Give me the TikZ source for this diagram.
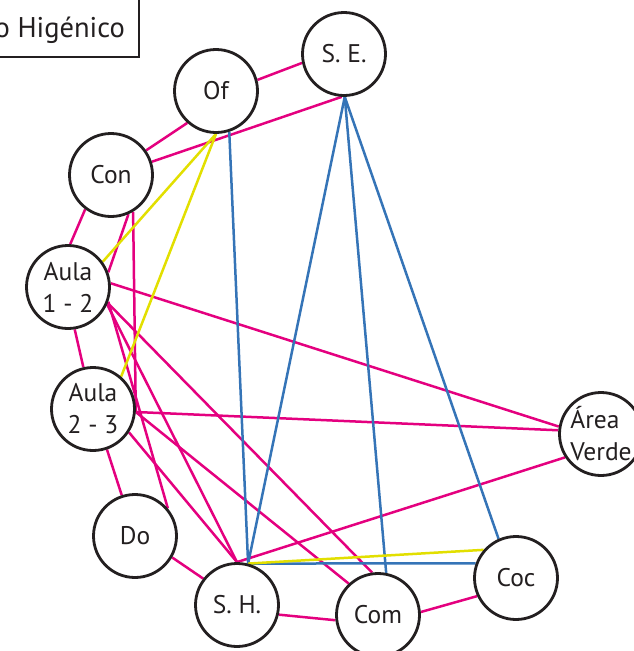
\documentclass[tikz,border=0pt]{standalone}
\usepackage{fontspec}
\setmainfont{PT Sans}
\usetikzlibrary{backgrounds}
\definecolor{mag}{HTML}{E4007F}
\definecolor{blu}{HTML}{3574B7}
\definecolor{yel}{HTML}{E2DF00}
\definecolor{ink}{HTML}{231F20}
\begin{document}
\begin{tikzpicture}[x=1pt,y=-1pt,
  room/.style={circle,draw=ink,line width=2.8pt,fill=white,minimum size=83pt,inner sep=0pt,
    font=\fontsize{25.5}{32}\selectfont,align=center,text=ink},
  rel/.style={mag,line width=2.5pt},
  ind/.style={blu,line width=2.5pt},
  aux/.style={yel,line width=2.5pt},
  boxline/.style={draw=ink,line width=2pt}]
\useasboundingbox (0,0) rectangle (633,651);
% title box
\draw[boxline] (-40,-40) rectangle (139,57);
\node[anchor=base east,font=\fontsize{28.5}{32}\selectfont,text=ink,inner sep=0pt] (title) at (125,37) {o Higénico};
% rooms
\node[room] (of) at (216,91) {Of};
\node[room] (se) at (344,54) {S. E.};
\node[room] (con) at (111,175) {Con};
\node[room] (a12) at (68,287) {Aula\\1 - 2};
\node[room] (a23) at (93,409) {Aula\\2 - 3};
\node[room] (do) at (135,536) {Do};
\node[room] (sh) at (237,605) {S. H.};
\node[room] (com) at (378,615) {Com};
\node[room] (coc) at (516,578) {Coc};
\node[room,align=left] (av) at (601,434) {Área\\Verde};
\begin{scope}[on background layer]
% magenta relations
\draw[rel] (of.15) -- (se.192);
\draw[rel] (con.18) -- (se.267);
\draw[rel] (of.228) -- (con.35);
\draw[rel] (con.233) -- (a12.87);
\draw[rel] (con.294) -- (a12.20);
\draw[rel] (con.301) -- (a23.-4);
\draw[rel] (a12.279) -- (a23.103);
\draw[rel] (a23.289) -- (do.108);
\draw[rel] (do.330) -- (sh.142);
\draw[rel] (sh.347) -- (com.187);
\draw[rel] (com.4) -- (coc.205);
\draw[rel] (a12.5) -- (av.170);
\draw[rel] (a23.-4) -- (av.175);
\draw[rel] (sh.90) -- (av.213);
\draw[rel] (a12.338) -- (com.98);
\draw[rel] (a12.336) -- (sh.90);
\draw[rel] (a12.340) -- (do.40);
\draw[rel] (a23.327) -- (sh.90);
\draw[rel] (a23.-4) -- (com.133);
% blue relations
\draw[ind] (of.288) -- (sh.75);
\draw[ind] (se.271) -- (sh.75);
\draw[ind] (se.271) -- (com.79);
\draw[ind] (se.271) -- (coc.114);
\draw[ind] (sh.75) -- (coc.160);
% yellow relations
\draw[aux] (of.270) -- (a12.36);
\draw[aux] (of.270) -- (a23.49);
\draw[aux] (sh.75) -- (coc.139);
\end{scope}
\end{tikzpicture}
\end{document}
